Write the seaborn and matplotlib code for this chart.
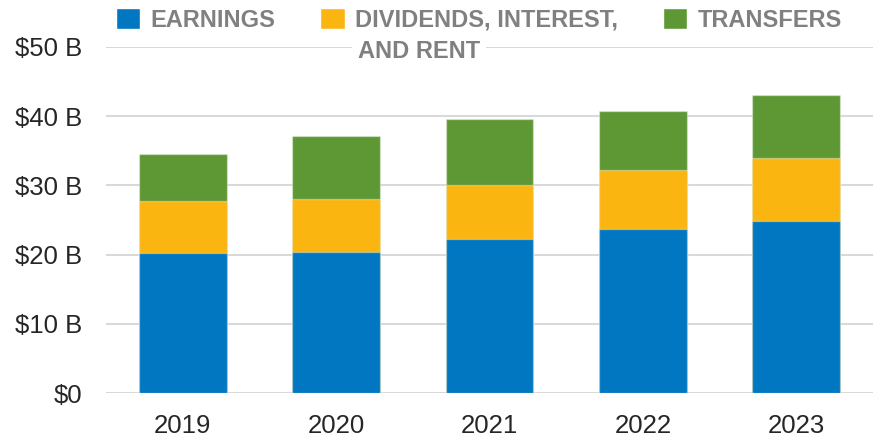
import numpy as np
import pandas as pd
import matplotlib
matplotlib.use("Agg")
import matplotlib.pyplot as plt
import seaborn as sns
from matplotlib.patches import Patch

years = ["2019", "2020", "2021", "2022", "2023"]
earnings = [20.3, 20.4, 22.2, 23.7, 24.8]
dividends = [7.5, 7.6, 7.8, 8.5, 9.1]
transfers = [6.8, 9.1, 9.6, 8.5, 9.1]
y_ticks = [0, 10, 20, 30, 40, 50]
y_labels = ["$0", "$10 B", "$20 B", "$30 B", "$40 B", "$50 B"]

c_earn = "#0077c0"
c_div = "#fbb511"
c_trans = "#5e9834"

sns.set_theme(style="white")
plt.rcParams["font.family"] = ["Liberation Sans", "DejaVu Sans"]

df = pd.DataFrame({"year": years, "earnings": earnings,
                   "dividends": dividends, "transfers": transfers})
# layered totals so the bars look stacked
df["top_div"] = df["earnings"] + df["dividends"]
df["top_all"] = df["top_div"] + df["transfers"]

fig = plt.figure(figsize=(8.73, 4.44), dpi=100)
ax = fig.add_axes([106/873, 51/444, 1 - 106/873, (393 - 47)/444])

edge = (1, 1, 1, 0.35)
sns.barplot(data=df, x="year", y="top_all", color=c_trans, width=0.573,
            saturation=1, edgecolor=edge, linewidth=1, ax=ax, zorder=3)
sns.barplot(data=df, x="year", y="top_div", color=c_div, width=0.573,
            saturation=1, edgecolor=edge, linewidth=1, ax=ax, zorder=3)
sns.barplot(data=df, x="year", y="earnings", color=c_earn, width=0.573,
            saturation=1, edgecolor=edge, linewidth=1, ax=ax, zorder=3)

ax.set_ylim(0, 50)
ax.set_xlim(-0.5, 4.5)
ax.set_yticks(y_ticks)
ax.set_yticklabels(y_labels)
ax.set_xlabel("")
ax.set_ylabel("")
ax.yaxis.grid(True, color="#d9d9d9", linewidth=1.5, zorder=0)
ax.set_axisbelow(True)
for s in ax.spines.values():
    s.set_visible(False)
ax.tick_params(axis="y", length=0, pad=17, labelsize=18.5, labelcolor="#262626")
ax.tick_params(axis="x", length=0, pad=15, labelsize=18.5, labelcolor="#262626")

handles = [Patch(facecolor=c_earn), Patch(facecolor=c_div), Patch(facecolor=c_trans)]
labels = ["EARNINGS", "DIVIDENDS, INTEREST,", "TRANSFERS"]
leg = fig.legend(handles, labels, loc="upper left", bbox_to_anchor=(116/873, 1 - 8/444),
                 ncol=3, frameon=False, borderpad=0, borderaxespad=0,
                 handlelength=1.02, handleheight=1.02, handletextpad=0.45,
                 columnspacing=1.9, prop={"family": "Liberation Sans", "weight": "bold", "size": 17})
for t in leg.get_texts():
    t.set_color("#808080")

fig.text(358/873, 1 - 51/444, "AND RENT", color="#808080", fontsize=17,
         fontweight="bold", va="center", ha="left",
         bbox=dict(facecolor="white", edgecolor="none", pad=4), zorder=10)

fig.savefig("out.png", dpi=100)
